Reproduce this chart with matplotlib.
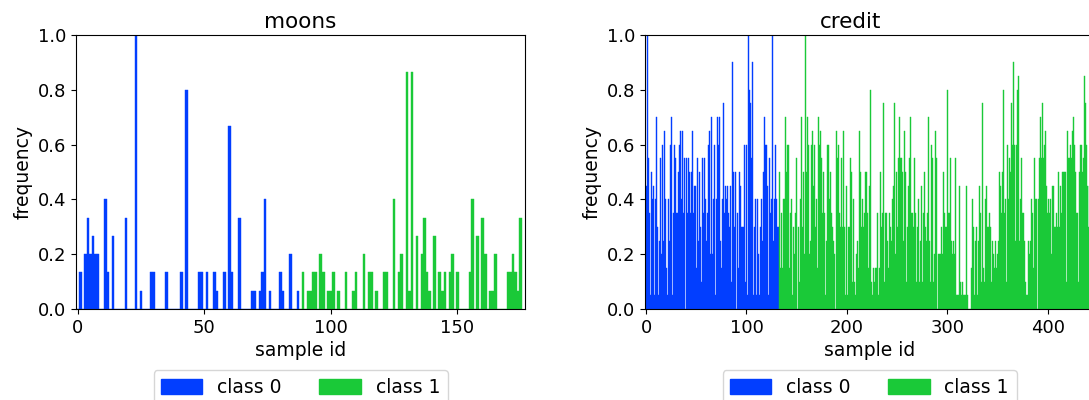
import numpy as np
import matplotlib
matplotlib.use('Agg')
import matplotlib.pyplot as plt
from matplotlib.patches import Patch

# moons: how often each sample was picked, out of 15 runs
MOONS_RUNS = 15
moons_counts = [
    0, 2, 0, 3, 5, 3, 4, 3, 3, 0,
    0, 6, 2, 0, 4, 0, 0, 0, 0, 5,
    0, 0, 0, 15, 0, 1, 0, 0, 0, 2,
    2, 0, 0, 0, 0, 2, 0, 0, 0, 0,
    0, 2, 0, 12, 0, 0, 0, 0, 2, 2,
    0, 2, 0, 0, 2, 1, 0, 0, 2, 0,
    10, 2, 0, 0, 5, 0, 0, 0, 0, 1,
    1, 0, 1, 2, 6, 0, 1, 0, 0, 0,
    2, 1, 0, 0, 3, 0, 0, 1, 0, 2,
    0, 1, 1, 2, 2, 0, 3, 2, 0, 1,
    1, 2, 0, 1, 0, 0, 2, 0, 0, 1,
    2, 0, 0, 3, 0, 2, 2, 0, 1, 0,
    0, 2, 2, 0, 0, 6, 0, 2, 3, 0,
    13, 1, 13, 0, 4, 0, 3, 5, 2, 1,
    0, 4, 0, 2, 1, 2, 0, 2, 3, 0,
    2, 0, 0, 0, 0, 2, 6, 0, 4, 0,
    5, 3, 0, 1, 1, 3, 0, 0, 0, 0,
    2, 2, 3, 2, 1, 5,
]
moons_n_class0 = 88

# credit: out of 20 runs (only the part visible in the picture)
CREDIT_RUNS = 20
credit_counts = [
    9, 20, 11, 7, 1, 10, 8, 9, 1, 8,
    14, 6, 1, 5, 11, 4, 12, 5, 13, 8,
    3, 1, 8, 5, 12, 14, 1, 7, 12, 11,
    7, 7, 10, 12, 13, 8, 13, 7, 11, 0,
    11, 7, 11, 10, 7, 10, 13, 7, 9, 9,
    3, 11, 5, 10, 6, 2, 11, 7, 11, 8,
    5, 7, 12, 13, 4, 14, 4, 8, 12, 1,
    8, 14, 12, 14, 5, 3, 8, 15, 7, 9,
    8, 9, 7, 6, 9, 2, 18, 10, 6, 10,
    0, 7, 3, 10, 9, 6, 6, 6, 12, 2,
    12, 1, 20, 16, 15, 11, 18, 1, 6, 8,
    1, 8, 4, 1, 6, 8, 5, 10, 14, 12,
    12, 9, 1, 11, 7, 8, 20, 5, 8, 12,
    8, 6, 6, 10, 3, 7, 3, 8, 8, 14,
    10, 12, 12, 3, 7, 8, 1, 6, 4, 7,
    11, 0, 6, 2, 8, 14, 6, 10, 4, 20,
    10, 14, 12, 4, 5, 12, 13, 9, 12, 6,
    8, 3, 14, 12, 13, 11, 7, 10, 7, 1,
    5, 12, 12, 8, 10, 7, 6, 5, 4, 0,
    13, 11, 12, 7, 6, 11, 6, 13, 6, 1,
    9, 1, 6, 11, 10, 2, 8, 2, 1, 4,
    5, 3, 13, 10, 6, 8, 6, 7, 10, 10,
    7, 3, 9, 16, 2, 1, 3, 2, 3, 3,
    7, 1, 3, 10, 6, 7, 15, 2, 7, 7,
    5, 3, 7, 6, 5, 8, 9, 15, 4, 10,
    6, 11, 14, 11, 11, 10, 5, 13, 10, 2,
    6, 9, 11, 14, 7, 7, 6, 11, 7, 2,
    6, 8, 2, 5, 9, 2, 7, 10, 6, 5,
    7, 14, 5, 2, 12, 11, 2, 4, 13, 11,
    0, 4, 4, 4, 6, 4, 10, 7, 6, 6,
    16, 7, 7, 11, 5, 4, 5, 4, 11, 1,
    1, 1, 9, 2, 1, 2, 1, 1, 1, 9,
    1, 0, 0, 0, 3, 8, 6, 1, 5, 6,
    1, 5, 9, 7, 2, 15, 3, 2, 8, 9,
    6, 6, 7, 6, 2, 5, 4, 3, 5, 3,
    4, 5, 10, 9, 7, 10, 16, 7, 8, 2,
    12, 8, 11, 10, 15, 12, 18, 12, 5, 12,
    16, 17, 5, 8, 11, 7, 7, 5, 2, 1,
    1, 5, 4, 5, 8, 7, 3, 11, 8, 8,
    0, 8, 11, 14, 11, 15, 11, 12, 13, 9,
    7, 8, 7, 8, 4, 9, 6, 6, 7, 6,
    10, 6, 9, 7, 10, 10, 10, 10, 2, 13,
    11, 11, 12, 11, 13, 14, 12, 10, 7, 7,
    2, 10, 12, 12, 10, 11, 17, 15, 12, 9,
    6, 9, 5,
]
credit_n_class0 = 133

class_labels = ['class 0', 'class 1']
class_colors = ['#023eff', '#1ac938']


def draw(ax, counts, runs, n_class0, title, xticks, xlim, title_x=0.5):
    freq = np.array(counts) / runs
    ids = np.arange(len(freq))
    # thin edge in the same colour closes the seams between 1px bars
    ax.bar(ids[:n_class0], freq[:n_class0], width=1.0, color=class_colors[0],
           edgecolor=class_colors[0], linewidth=0.3)
    ax.bar(ids[n_class0:], freq[n_class0:], width=1.0, color=class_colors[1],
           edgecolor=class_colors[1], linewidth=0.3)
    ax.set_xlim(*xlim)
    ax.set_ylim(0, 1)
    ax.set_xticks(xticks)
    ax.set_yticks(np.arange(0, 1.01, 0.2))
    ax.set_title(title, fontsize=15.5, pad=5, x=title_x)
    ax.set_xlabel('sample id', fontsize=13.5, labelpad=3)
    ax.set_ylabel('frequency', fontsize=13.5)
    ax.tick_params(labelsize=13)
    handles = [Patch(color=c) for c in class_colors]
    ax.legend(handles, class_labels, loc='upper center', bbox_to_anchor=(0.5, -0.19),
              ncol=2, fontsize=13.5, handlelength=2.2, handleheight=0.9,
              columnspacing=2.0)


def main():
    fig = plt.figure(figsize=(10.89, 4), dpi=100)
    ax1 = fig.add_axes([76 / 1089, 91 / 400, 449 / 1089, 274 / 400])
    ax2 = fig.add_axes([645 / 1089, 91 / 400, 449 / 1089, 274 / 400])
    draw(ax1, moons_counts, MOONS_RUNS, moons_n_class0, 'moons', [0, 50, 100, 150], (-0.7, 176.7))
    draw(ax2, credit_counts, CREDIT_RUNS, credit_n_class0, 'credit', [0, 100, 200, 300, 400],
         (-1, 445.8), title_x=0.458)
    fig.savefig('out.png', dpi=100)


if __name__ == '__main__':
    main()
